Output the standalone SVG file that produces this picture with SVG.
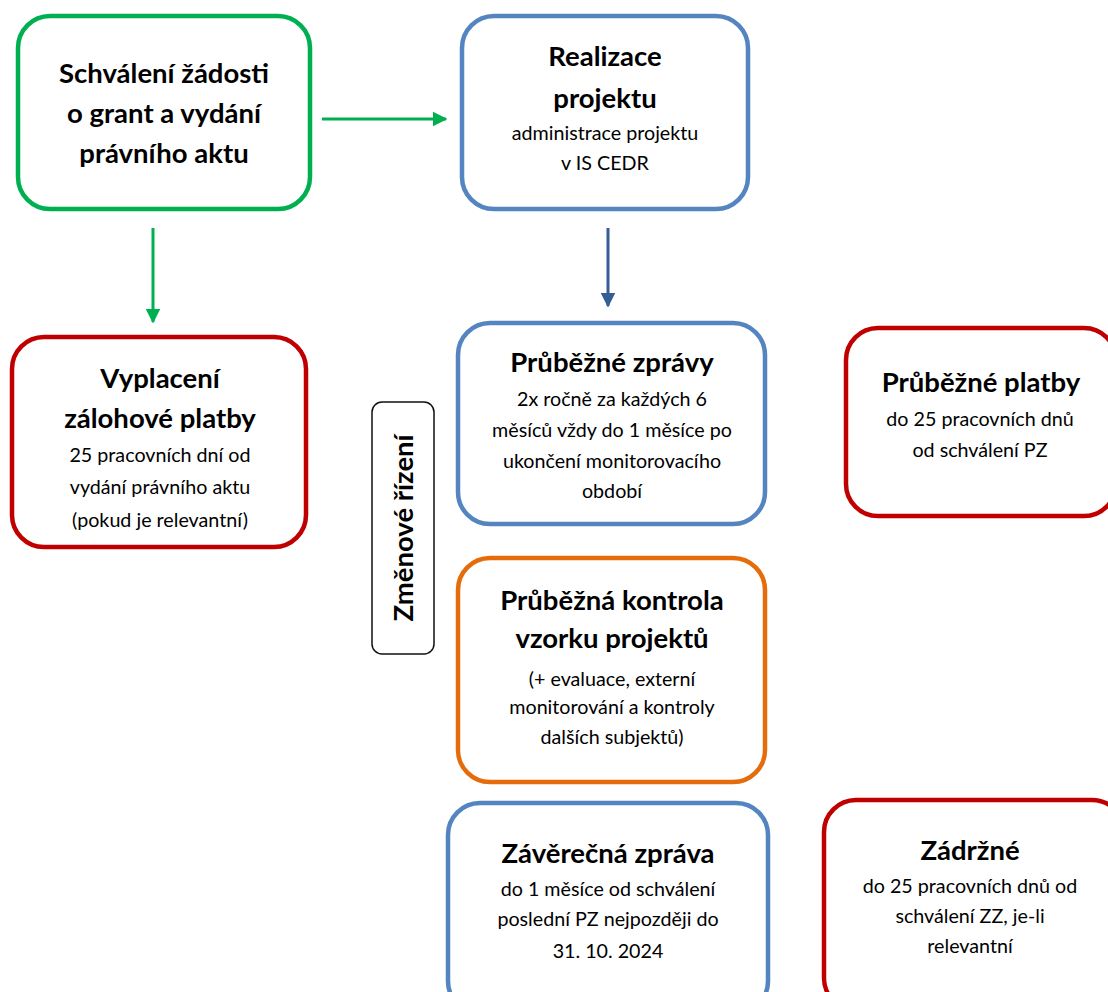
<svg xmlns="http://www.w3.org/2000/svg" width="1108" height="992" viewBox="0 0 1108 992">
<style>
.box{fill:#fff;stroke-width:4.5}
.g{stroke:#00B050}.b{stroke:#5585C0}.r{stroke:#C00000}.o{stroke:#E46C0A}
text{font-family:"Lato","Open Sans","Liberation Sans",sans-serif;fill:#000;text-anchor:middle}
.h{font-weight:bold;font-size:27.5px}
.s{font-size:19.7px}
</style>
<defs>
<marker id="ag" viewBox="0 0 10 10" refX="9" refY="5" markerWidth="5" markerHeight="5" orient="auto"><path d="M0,0L10,5L0,10z" fill="#00B050"/></marker>
<marker id="ab" viewBox="0 0 10 10" refX="9" refY="5" markerWidth="5" markerHeight="5" orient="auto"><path d="M0,0L10,5L0,10z" fill="#355E96"/></marker>
</defs>
<g id="connectors">
<line x1="322" y1="119" x2="446" y2="119" stroke="#00B050" stroke-width="3" marker-end="url(#ag)"/>
<line x1="153" y1="228" x2="153" y2="322" stroke="#00B050" stroke-width="3" marker-end="url(#ag)"/>
<line x1="608" y1="228" x2="608" y2="306" stroke="#355E96" stroke-width="3" marker-end="url(#ab)"/>
</g>
<g id="n1"><rect class="box g" x="18" y="16" width="292" height="193" rx="32"/>
<text class="h" x="164" y="83">Schválení žádosti</text><text class="h" x="164" y="123">o grant a vydání</text><text class="h" x="164" y="163">právního aktu</text></g>
<g id="n2"><rect class="box b" x="462" y="16" width="286" height="193" rx="32"/>
<text class="h" x="605" y="66">Realizace</text><text class="h" x="605" y="108">projektu</text>
<text class="s" x="605" y="140">administrace projektu</text><text class="s" x="605" y="170">v IS CEDR</text></g>
<g id="n3"><rect class="box r" x="12" y="337" width="294" height="210" rx="32"/>
<text class="h" x="160" y="388">Vyplacení</text><text class="h" x="160" y="428">zálohové platby</text>
<text class="s" x="160" y="462">25 pracovních dní od</text><text class="s" x="160" y="494">vydání právního aktu</text><text class="s" x="160" y="527">(pokud je relevantní)</text></g>
<g id="n4"><rect x="372" y="402" width="62" height="252" rx="10" fill="#fff" stroke="#111" stroke-width="1.5"/>
<text class="h" transform="translate(413,528) rotate(-90)">Změnové řízení</text></g>
<g id="n5"><rect class="box b" x="458" y="323" width="307" height="201" rx="32"/>
<text class="h" x="612" y="372">Průběžné zprávy</text>
<text class="s" x="612" y="406">2x ročně za každých 6</text><text class="s" x="612" y="437">měsíců vždy do 1 měsíce po</text><text class="s" x="612" y="468">ukončení monitorovacího</text><text class="s" x="612" y="498">období</text></g>
<g id="n6"><rect class="box r" x="846" y="328" width="270" height="188" rx="32"/>
<text class="h" x="981" y="392">Průběžné platby</text>
<text class="s" x="980" y="426">do 25 pracovních dnů</text><text class="s" x="980" y="457">od schválení PZ</text></g>
<g id="n7"><rect class="box o" x="458" y="558" width="307" height="224" rx="32"/>
<text class="h" x="612" y="610">Průběžná kontrola</text><text class="h" x="612" y="648">vzorku projektů</text>
<text class="s" x="612" y="686">(+ evaluace, externí</text><text class="s" x="612" y="714">monitorování a kontroly</text><text class="s" x="612" y="744">dalších subjektů)</text></g>
<g id="n8"><rect class="box b" x="448" y="803" width="320" height="210" rx="32"/>
<text class="h" x="608" y="863">Závěrečná zpráva</text>
<text class="s" x="608" y="896">do 1 měsíce od schválení</text><text class="s" x="608" y="926">poslední PZ nejpozději do</text><text class="s" x="608" y="958">31. 10. 2024</text></g>
<g id="n9"><rect class="box r" x="824" y="800" width="300" height="210" rx="32"/>
<text class="h" x="970" y="860">Zádržné</text>
<text class="s" x="970" y="893">do 25 pracovních dnů od</text><text class="s" x="970" y="923">schválení ZZ, je-li</text><text class="s" x="970" y="953">relevantní</text></g>
</svg>
